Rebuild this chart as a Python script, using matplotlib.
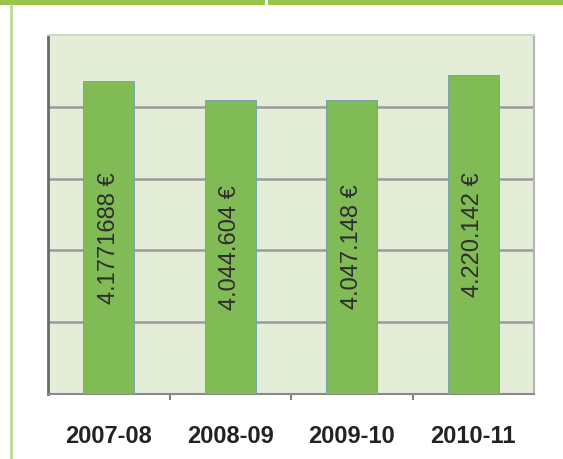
import numpy as np
import matplotlib.pyplot as plt
from matplotlib.lines import Line2D
from matplotlib.patches import Rectangle

# data
seasons = ["2007-08", "2008-09", "2009-10", "2010-11"]
amounts = [4177168, 4044604, 4047148, 4220142]
labels = ["4.1771688 €", "4.044.604 €", "4.047.148 €", "4.220.142 €"]
y_min, y_max, y_step = 2000000, 4500000, 500000

plt.rcParams['font.family'] = ['Liberation Sans', 'DejaVu Sans']

fig = plt.figure(figsize=(5.63, 4.59), dpi=100)
fig.patch.set_facecolor('white')

# frame decorations (green header band + left rule)
fig.add_artist(Rectangle((0, 1 - 5/459), 1, 5/459, transform=fig.transFigure,
                         color='#9bc44b', lw=0))
fig.add_artist(Rectangle((265/563, 1 - 5/459), 3/563, 5/459, transform=fig.transFigure,
                         color='white', lw=0))
fig.add_artist(Line2D([11/563, 11/563], [0, 1 - 5/459], transform=fig.transFigure,
                      color='#b5d98a', lw=1.8))

ax = fig.add_axes([48/563, 1 - 394/459, 486/563, 359/459])
ax.set_facecolor('#e3edd8')

x = np.arange(len(seasons))
heights = [a - y_min for a in amounts]
bars = ax.bar(x, heights, bottom=y_min, width=0.42, color='#80bb55',
              edgecolor='#6c9fb0', linewidth=0.6, zorder=3)
ax.bar_label(bars, labels=labels, label_type='center', rotation=90,
             fontsize=17, color='#2e2e2e', zorder=4)

ax.set_xlim(-0.5, len(seasons) - 0.5)
ax.set_ylim(y_min, y_max)
ax.set_yticks(np.arange(y_min + y_step, y_max, y_step))
ax.yaxis.grid(True, color='#9a9a9a', lw=1.8, zorder=1)
ax.tick_params(axis='y', left=False, labelleft=False)

ax.set_xticks(x)
ax.set_xticklabels(seasons, fontsize=17, fontweight='bold', color='#222222')
ax.tick_params(axis='x', length=0, pad=22)
# small separators between categories on the baseline
ax.set_xticks(x[:-1] + 0.5, minor=True)
ax.tick_params(axis='x', which='minor', length=4, color='#666666', width=1.2, direction='out')

ax.spines['top'].set_color('#d0d8c8')
ax.spines['top'].set_linewidth(1.5)
ax.spines['right'].set_color('#b4b4b4')
ax.spines['right'].set_linewidth(1.5)
ax.spines['left'].set_color('#6b6b6b')
ax.spines['left'].set_linewidth(2)
ax.spines['bottom'].set_color('#8a8a8a')
ax.spines['bottom'].set_linewidth(1.5)

fig.savefig('out.png', dpi=100)
